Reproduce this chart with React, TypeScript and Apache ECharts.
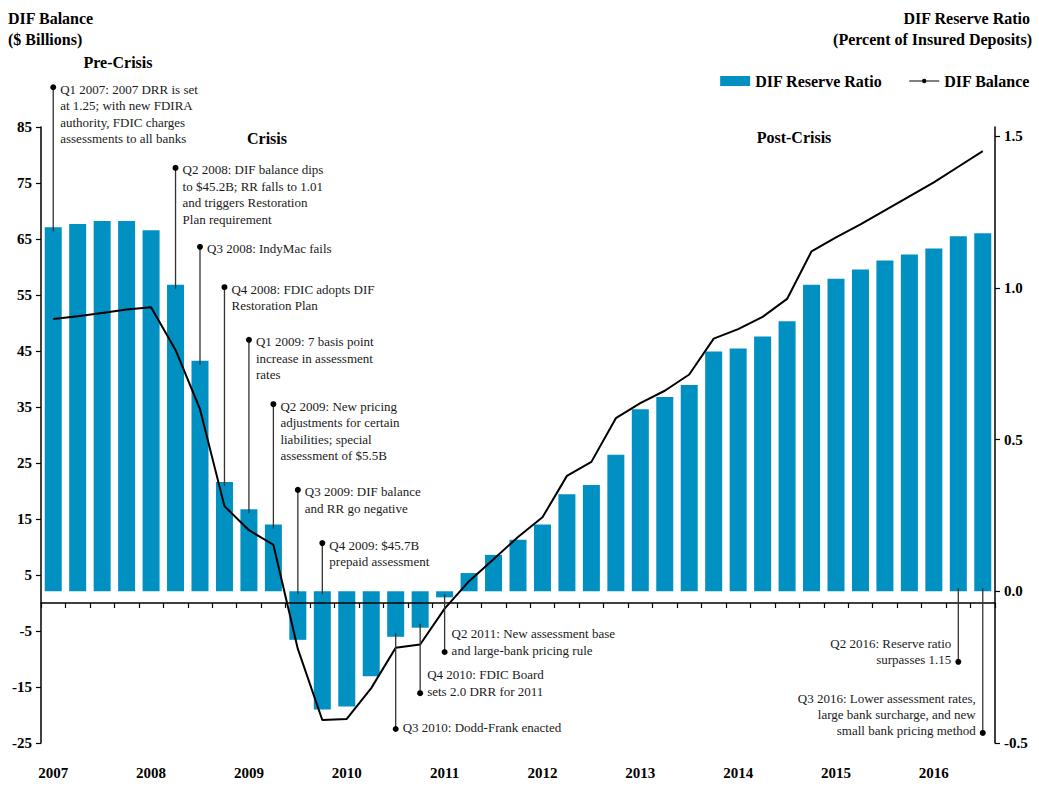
import React, { useEffect, useRef } from "react";
import * as echarts from "echarts";

const quarters = [
  "Q1 2007", "Q2 2007", "Q3 2007", "Q4 2007",
  "Q1 2008", "Q2 2008", "Q3 2008", "Q4 2008",
  "Q1 2009", "Q2 2009", "Q3 2009", "Q4 2009",
  "Q1 2010", "Q2 2010", "Q3 2010", "Q4 2010",
  "Q1 2011", "Q2 2011", "Q3 2011", "Q4 2011",
  "Q1 2012", "Q2 2012", "Q3 2012", "Q4 2012",
  "Q1 2013", "Q2 2013", "Q3 2013", "Q4 2013",
  "Q1 2014", "Q2 2014", "Q3 2014", "Q4 2014",
  "Q1 2015", "Q2 2015", "Q3 2015", "Q4 2015",
  "Q1 2016", "Q2 2016", "Q3 2016",
];

// DIF Reserve Ratio (percent of insured deposits) — right axis, bars
const reserveRatio = [
  1.2, 1.21, 1.22, 1.22,
  1.19, 1.01, 0.76, 0.36,
  0.27, 0.22, -0.16, -0.39,
  -0.38, -0.28, -0.15, -0.12,
  -0.02, 0.06, 0.12, 0.17,
  0.22, 0.32, 0.35, 0.45,
  0.6, 0.64, 0.68, 0.79,
  0.8, 0.84, 0.89, 1.01,
  1.03, 1.06, 1.09, 1.11,
  1.13, 1.17, 1.18,
];

// DIF Balance ($ billions) — left axis, line
const difBalance = [
  50.7, 51.2, 51.8, 52.4,
  52.8, 45.2, 34.6, 17.3,
  13.0, 10.4, -8.2, -20.9,
  -20.7, -15.2, -8.0, -7.4,
  -1.0, 3.9, 7.8, 11.8,
  15.3, 22.7, 25.2, 33.0,
  35.7, 37.9, 40.8, 47.2,
  48.9, 51.1, 54.3, 62.8,
  65.3, 67.6, 70.1, 72.6,
  75.1, 77.9, 80.7,
];

const rightTicks = [-0.5, 0, 0.5, 1.0, 1.5];

// Event annotations: category index, dot position (left-axis units), text alignment, text lines
const annoIndex = [0, 5, 6, 7, 8, 9, 10, 11, 14, 15, 16, 37, 38];
const annoDot = [92.1, 77.7, 63.6, 56.4, 47.0, 35.5, 20.2, 10.7, -22.5, -16.1, -8.75, -10.5, -23.2];
const annoAlign = ["left", "left", "left", "left", "left", "left", "left", "left", "left", "left", "left", "right", "right"];
const annoText = [
  ["Q1 2007: 2007 DRR is set", "at 1.25; with new FDIRA", "authority, FDIC charges", "assessments to all banks"],
  ["Q2 2008: DIF balance dips", "to $45.2B; RR falls to 1.01", "and triggers Restoration", "Plan requirement"],
  ["Q3 2008: IndyMac fails"],
  ["Q4 2008: FDIC adopts DIF", "Restoration Plan"],
  ["Q1 2009: 7 basis point", "increase in assessment", "rates"],
  ["Q2 2009: New pricing", "adjustments for certain", "liabilities; special", "assessment of $5.5B"],
  ["Q3 2009: DIF balance", "and RR go negative"],
  ["Q4 2009: $45.7B", "prepaid assessment"],
  ["Q3 2010: Dodd-Frank enacted"],
  ["Q4 2010: FDIC Board", "sets 2.0 DRR for 2011"],
  ["Q2 2011: New assessment base", "and large-bank pricing rule"],
  ["Q2 2016: Reserve ratio", "surpasses 1.15"],
  ["Q3 2016: Lower assessment rates,", "large bank surcharge, and new", "small bank pricing method"],
];

const FONT = '"Liberation Serif", "DejaVu Serif", serif';
const BAR_COLOR = "#0090C1";
const LINE_ICON =
  "path://M0,0L0.01,0L0.01,0.01ZM30,10L29.99,10L29.99,9.99ZM0,4.4H30V5.6H0ZM17.2,5A2.2,2.2,0,1,1,12.8,5A2.2,2.2,0,1,1,17.2,5Z";

export default function App() {
  const ref = useRef<HTMLDivElement>(null);

  useEffect(() => {
    if (!ref.current) return;
    const chart = echarts.init(ref.current, undefined, { renderer: "svg" });

    const boldLabel = { fontFamily: FONT, fontWeight: "bold" as const, fontSize: 15, color: "#000" };

    chart.setOption({
      animation: false,
      backgroundColor: "#fff",
      grid: { left: 41, right: 44, top: 127, bottom: 57, containLabel: false, outerBoundsMode: "none" },
      legend: {
        right: 4,
        top: 68,
        itemWidth: 30,
        itemHeight: 10,
        itemGap: 27,
        textStyle: { fontFamily: FONT, fontWeight: "bold", fontSize: 16, color: "#000" },
        data: [
          { name: "DIF Reserve Ratio", icon: "rect" },
          { name: "DIF Balance", icon: LINE_ICON, itemStyle: { color: "#000" } },
        ],
      },
      xAxis: [
        {
          type: "category",
          data: quarters,
          position: "bottom",
          axisLine: { show: false, onZero: false },
          axisTick: { show: false },
          splitLine: { show: false },
          axisLabel: {
            ...boldLabel,
            interval: 3,
            margin: 22,
            formatter: (v: string) => v.slice(3),
          },
        },
        {
          type: "category",
          data: quarters,
          position: "bottom",
          z: 5,
          axisLine: { show: true, onZero: true, onZeroAxisIndex: 0, lineStyle: { color: "#000", width: 1.5 } },
          axisTick: { show: true, interval: 0, length: 5, lineStyle: { color: "#000", width: 1.2 } },
          axisLabel: { show: false },
          splitLine: { show: false },
        },
      ],
      yAxis: [
        {
          type: "value",
          position: "left",
          min: -25,
          max: 85,
          interval: 10,
          axisLine: { show: true, lineStyle: { color: "#000", width: 1.5 } },
          axisTick: { show: true, length: 5, lineStyle: { color: "#000", width: 1.2 } },
          splitLine: { show: false },
          axisLabel: { ...boldLabel, margin: 9 },
        },
        {
          type: "value",
          position: "right",
          min: -0.5,
          max: 1.53,
          interval: 0.5,
          axisLine: { show: true, lineStyle: { color: "#000", width: 1.5 } },
          axisTick: { show: true, length: 5, customValues: rightTicks, lineStyle: { color: "#000", width: 1.2 } },
          splitLine: { show: false },
          axisLabel: {
            ...boldLabel,
            margin: 9,
            customValues: rightTicks,
            formatter: (v: number) =>
              Math.abs(v * 2 - Math.round(v * 2)) > 1e-6 ? "" : v.toFixed(1),
          },
        },
      ],
      series: [
        {
          type: "bar",
          name: "DIF Reserve Ratio",
          xAxisIndex: 0,
          yAxisIndex: 1,
          data: reserveRatio,
          barWidth: 17,
          itemStyle: { color: BAR_COLOR },
          z: 2,
        },
        {
          type: "line",
          name: "DIF Balance",
          xAxisIndex: 0,
          yAxisIndex: 0,
          data: difBalance,
          symbol: "circle",
          symbolSize: 5,
          showSymbol: false,
          lineStyle: { color: "#000", width: 2 },
          itemStyle: { color: "#000" },
          z: 4,
        },
      ],
    });

    // Build annotations from axis scales
    const graphics: any[] = [];
    const annFont = `13px ${FONT}`;
    const lineGap = 16.4;
    annoIndex.forEach((idx, k) => {
      const dot = chart.convertToPixel({ seriesIndex: 1 }, [idx, annoDot[k]]) as number[];
      const barV = reserveRatio[idx];
      const barPx = (chart.convertToPixel({ seriesIndex: 0 }, [idx, barV]) as number[])[1];
      const basePx = (chart.convertToPixel({ seriesIndex: 0 }, [idx, 0]) as number[])[1];
      const up = annoDot[k] > 0;
      let endY: number;
      if (up) endY = barV >= 0 ? barPx + 4 : basePx + 3;
      else endY = barV < 0 ? Math.max(barPx - 4, basePx + 3) : basePx - 3;
      graphics.push({
        type: "line",
        z: 20,
        shape: { x1: dot[0], y1: dot[1], x2: dot[0], y2: endY },
        style: { stroke: "#333", lineWidth: 1.3 },
      });
      graphics.push({
        type: "circle",
        z: 21,
        shape: { cx: dot[0], cy: dot[1], r: 3 },
        style: { fill: "#000" },
      });
      const lines = annoText[k];
      const right = annoAlign[k] === "right";
      const tx = right ? dot[0] - 7 : dot[0] + 7;
      lines.forEach((t, j) => {
        const ty = up ? dot[1] + 2 + j * lineGap : dot[1] - 2 - (lines.length - 1 - j) * lineGap;
        graphics.push({
          type: "text",
          z: 21,
          x: tx,
          y: ty,
          style: {
            text: t,
            font: annFont,
            fill: "#1a1a1a",
            textAlign: right ? "right" : "left",
            align: right ? "right" : "left",
            textVerticalAlign: "middle",
            verticalAlign: "middle",
          },
        });
      });
    });

    const heading = (text: string, x: number, y: number, align: string) => ({
      type: "text",
      z: 21,
      x,
      y,
      style: {
        text,
        font: `bold 16px ${FONT}`,
        fill: "#000",
        textAlign: align,
        align,
        textVerticalAlign: "middle",
        verticalAlign: "middle",
      },
    });
    graphics.push(heading("DIF Balance", 8, 18, "left"));
    graphics.push(heading("($ Billions)", 8, 39, "left"));
    graphics.push(heading("DIF Reserve Ratio", 1030, 18, "right"));
    graphics.push(heading("(Percent of Insured Deposits)", 1032, 39, "right"));
    graphics.push(heading("Pre-Crisis", 118, 62, "center"));
    graphics.push(heading("Crisis", 267, 138, "center"));
    graphics.push(heading("Post-Crisis", 794, 137, "center"));

    chart.setOption({ graphic: graphics });

    return () => chart.dispose();
  }, []);

  return (
    <div
      ref={ref}
      style={{ position: "fixed", left: 0, top: 0, width: 1039, height: 800, background: "#fff" }}
    />
  );
}
